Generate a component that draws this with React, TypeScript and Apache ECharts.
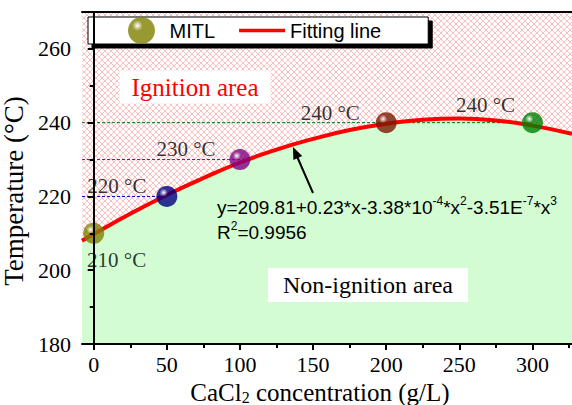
import React, { useEffect, useRef } from "react";
import * as echarts from "echarts";

// ---- data ----
const concentrations = [0, 50, 100, 200, 300];
const mitlTemps = [210, 220, 230, 240, 240];
const fitX = [-8, 0, 25, 50, 75, 100, 125, 150, 175, 200, 225, 250, 275, 300, 327];
const fitY = [208.0, 209.8, 215.3, 220.4, 225.0, 229.2, 232.7, 235.6, 238.0, 239.7, 240.8, 241.1, 240.6, 239.2, 237.0];
const xMajorTicks = [0, 50, 100, 150, 200, 250, 300];
const xMinorTicks = [25, 75, 125, 175, 225, 275, 325];
const yMajorTicks = [180, 200, 220, 240, 260];
const yMinorTicks = [190, 210, 230, 250];
const refLines = [
  { y: 220, toX: 50, color: "#0000cc" },
  { y: 230, toX: 100, color: "#900090" },
  { y: 240, toX: 300, color: "#007000" },
];

// ---- styles ----
const pointColors = ["#808000", "#000080", "#800080", "#7a1800", "#008000"];
const labelOffsets = [
  [23, 27],
  [-50, -10],
  [-54, -11],
  [-56, -10],
  [-47, -18],
];
const SERIF = '"Liberation Serif", "Times New Roman", serif';
const SANS = '"Liberation Sans", Arial, sans-serif';
const X_MIN = -8;
const X_MAX = 327;
const Y_MIN = 180;
const Y_MAX = 270;

function sphere(color: string) {
  return {
    type: "radial",
    x: 0.35,
    y: 0.32,
    r: 0.7,
    colorStops: [
      { offset: 0, color: "#ffffff" },
      { offset: 0.28, color: color },
      { offset: 1, color: color },
    ],
  };
}

function makeHatch() {
  const c = document.createElement("canvas");
  c.width = 6;
  c.height = 6;
  const ctx = c.getContext("2d")!;
  ctx.fillStyle = "#ffffff";
  ctx.fillRect(0, 0, 6, 6);
  ctx.strokeStyle = "rgba(240,90,90,0.55)";
  ctx.lineWidth = 0.7;
  for (let k = -1; k <= 1; k++) {
    ctx.beginPath();
    ctx.moveTo(k * 6, 0);
    ctx.lineTo(k * 6 + 6, 6);
    ctx.stroke();
    ctx.beginPath();
    ctx.moveTo(k * 6 + 6, 0);
    ctx.lineTo(k * 6, 6);
    ctx.stroke();
  }
  return c;
}

export default function App() {
  const ref = useRef<HTMLDivElement>(null);
  useEffect(() => {
    document.body.style.margin = "0";
    const chart = echarts.init(ref.current!, undefined, { renderer: "svg" });
    const hatch = makeHatch();

    const axisLineStyle = { color: "#000", width: 2 };
    const baseX = { type: "value", min: X_MIN, max: X_MAX, splitLine: { show: false } };
    const baseY = { type: "value", min: Y_MIN, max: Y_MAX, splitLine: { show: false } };

    const option: any = {
      animation: false,
      grid: { left: 82, top: 12, right: 0, bottom: 61, containLabel: false, outerBoundsMode: "none" },
      legend: {
        data: [
          { name: "MITL" },
          { name: "Fitting line", icon: "path://M0 0H100V8H0Z" },
        ],
        left: 88,
        top: 17,
        itemWidth: 46,
        itemHeight: 27,
        itemGap: 24,
        padding: [0, 47, 0, 40],
        backgroundColor: "#fff",
        borderColor: "#000",
        borderWidth: 1,
        shadowColor: "#000",
        shadowOffsetX: 4,
        shadowOffsetY: 4,
        shadowBlur: 0,
        selectedMode: false,
        textStyle: { fontFamily: SANS, fontSize: 20, color: "#000" },
      },
      xAxis: [
        {
          ...baseX,
          position: "bottom",
          z: 5,
          axisLine: { show: true, lineStyle: axisLineStyle },
          axisTick: { show: true, customValues: xMajorTicks, length: 6, lineStyle: axisLineStyle },
          axisLabel: { customValues: xMajorTicks, margin: 9, fontFamily: SERIF, fontSize: 22, color: "#000" },
          name: "{a|CaCl}{s|2}{a| concentration (g/L)}",
          nameLocation: "middle",
          nameGap: 29,
          nameTextStyle: {
            fontFamily: SERIF,
            fontSize: 25,
            color: "#000",
            padding: [0, 14, 0, 0],
            rich: {
              a: { fontFamily: SERIF, fontSize: 25, color: "#000", lineHeight: 26 },
              s: { fontFamily: SERIF, fontSize: 16, color: "#000", verticalAlign: "bottom" },
            },
          },
        },
        {
          ...baseX,
          position: "bottom",
          z: 5,
          axisLine: { show: false },
          axisTick: { show: true, customValues: xMinorTicks, length: 4, lineStyle: axisLineStyle },
          axisLabel: { show: false },
        },
        {
          ...baseX,
          position: "top",
          z: 5,
          axisLine: { show: true, lineStyle: axisLineStyle },
          axisTick: { show: false },
          axisLabel: { show: false },
        },
      ],
      yAxis: [
        {
          ...baseY,
          position: "left",
          z: 5,
          axisLine: { show: true, lineStyle: axisLineStyle },
          axisTick: { show: true, customValues: yMajorTicks, length: 6, lineStyle: axisLineStyle },
          axisLabel: { customValues: yMajorTicks, margin: 11, fontFamily: SERIF, fontSize: 22, color: "#000" },
          name: "Temperature (°C)",
          nameLocation: "middle",
          nameGap: 51,
          nameRotate: 90,
          nameTextStyle: { fontFamily: SERIF, fontSize: 27, color: "#000", padding: [0, 26, 0, 0] },
        },
        {
          ...baseY,
          position: "left",
          z: 5,
          axisLine: { show: false },
          axisTick: { show: true, customValues: yMinorTicks, length: 4, lineStyle: axisLineStyle },
          axisLabel: { show: false },
        },
      ],
      graphic: [
        {
          type: "rect",
          z: -1,
          silent: true,
          shape: { x: 82, y: 12, width: 490, height: 332 },
          style: { fill: { image: hatch, repeat: "repeat", imageWidth: 6, imageHeight: 6 } },
        },
        {
          type: "text",
          z: 10,
          x: 195,
          y: 87,
          style: {
            text: "Ignition area",
            fontFamily: SERIF,
            fontSize: 25,
            fill: "#ff0000",
            align: "center",
            verticalAlign: "middle",
            textAlign: "center",
            textVerticalAlign: "middle",
            backgroundColor: "#fff",
            padding: [4, 12],
          },
        },
        {
          type: "text",
          z: 10,
          x: 368,
          y: 285,
          style: {
            text: "Non-ignition area",
            fontFamily: SERIF,
            fontSize: 24,
            fill: "#000",
            align: "center",
            verticalAlign: "middle",
            textAlign: "center",
            textVerticalAlign: "middle",
            backgroundColor: "#fff",
            padding: [5, 15],
          },
        },
        {
          type: "text",
          z: 10,
          x: 217,
          y: 207,
          style: {
            text: "{n|y=209.81+0.23*x-3.38*10}{s|-4}{n|*x}{s|2}{n|-3.51E}{s|-7}{n|*x}{s|3}",
            align: "left",
            verticalAlign: "middle",
            textAlign: "left",
            textVerticalAlign: "middle",
            rich: {
              n: { fontFamily: SANS, fontSize: 19, fill: "#000", lineHeight: 24 },
              s: { fontFamily: SANS, fontSize: 12, fill: "#000", verticalAlign: "top" },
            },
          },
        },
        {
          type: "text",
          z: 10,
          x: 217,
          y: 232,
          style: {
            text: "{n|R}{s|2}{n|=0.9956}",
            align: "left",
            verticalAlign: "middle",
            textAlign: "left",
            textVerticalAlign: "middle",
            rich: {
              n: { fontFamily: SANS, fontSize: 19, fill: "#000", lineHeight: 24 },
              s: { fontFamily: SANS, fontSize: 12, fill: "#000", verticalAlign: "top" },
            },
          },
        },
        {
          type: "line",
          z: 10,
          shape: { x1: 313, y1: 193, x2: 297.5, y2: 157.5 },
          style: { stroke: "#000", lineWidth: 2 },
        },
        {
          type: "polygon",
          z: 10,
          shape: { points: [[293, 147], [302.2, 156], [293.4, 159.9]] },
          style: { fill: "#000" },
        },
      ],
      series: [
        {
          name: "area",
          type: "line",
          z: 1,
          smooth: true,
          symbol: "none",
          lineStyle: { width: 0, opacity: 0 },
          areaStyle: { color: "#d3fcd3", opacity: 1, origin: "start" },
          data: fitX.map((x, i) => [x, fitY[i]]),
          silent: true,
        },
        ...refLines.map((r, i) => ({
          name: "ref" + i,
          type: "line",
          z: 2,
          symbol: "none",
          silent: true,
          lineStyle: { color: r.color, width: 1, type: [3, 2] },
          data: [
            [X_MIN, r.y],
            [r.toX, r.y],
          ],
        })),
        {
          name: "Fitting line",
          type: "line",
          z: 3,
          smooth: true,
          symbol: "none",
          color: "#ff0000",
          lineStyle: { color: "#ff0000", width: 4 },
          data: fitX.map((x, i) => [x, fitY[i]]),
        },
        {
          name: "MITL",
          type: "scatter",
          z: 4,
          symbolSize: 21,
          itemStyle: { color: sphere(pointColors[0]) },
          label: {
            show: true,
            position: "inside",
            fontFamily: SERIF,
            fontSize: 21,
            color: "#000",
            textBorderWidth: 0,
            textBorderColor: "transparent",
            formatter: (p: any) => p.value[1] + " °C",
          },
          data: concentrations.map((x, i) => ({
            value: [x, mitlTemps[i]],
            itemStyle: { color: sphere(pointColors[i]) },
            label: { offset: labelOffsets[i] },
          })),
        },
      ],
    };
    chart.setOption(option);
    return () => chart.dispose();
  }, []);
  return <div ref={ref} style={{ width: 572, height: 405 }} />;
}
